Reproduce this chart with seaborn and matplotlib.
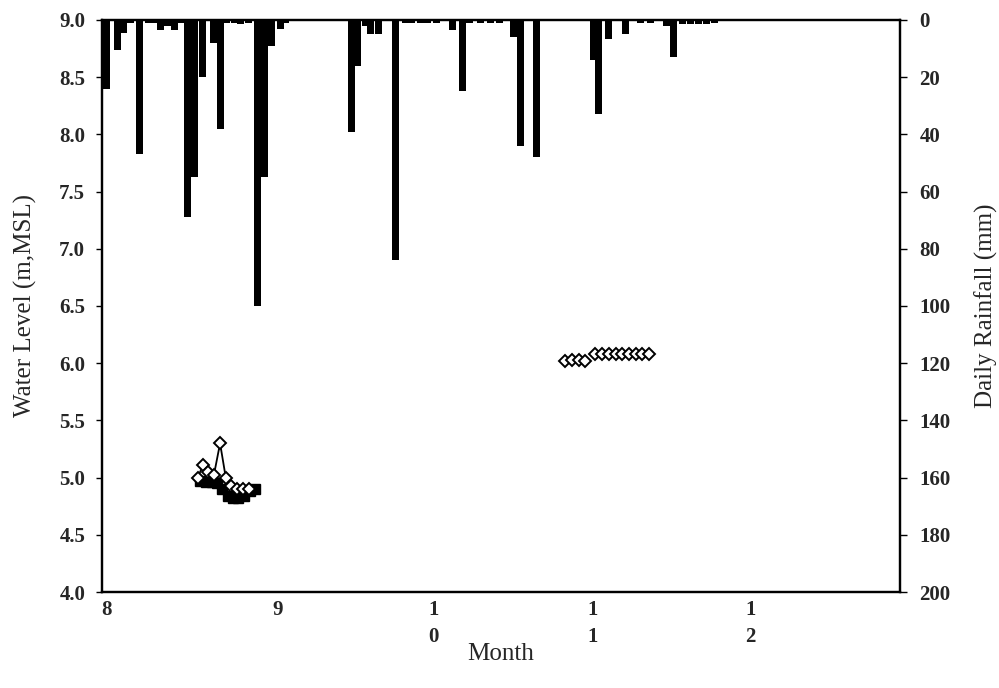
import numpy as np
import pandas as pd
import matplotlib
matplotlib.use("Agg")
import matplotlib.pyplot as plt
import seaborn as sns

# ---- data (x in days from start of August) ----
rain_day = [0.8, 3.1, 4.2, 5.6, 7.3, 8.9, 10.2, 11.4, 12.7, 14.1, 15.2,
            16.6, 17.8, 19.5, 21.6, 22.8, 24.1, 25.5, 26.8, 28.2,
            30.1, 31.3, 32.8, 34.4, 35.5,
            48.1, 49.4, 50.8, 51.9, 53.3, 56.6,
            58.5, 59.8, 61.4, 62.9, 64.5, 67.6, 69.5,
            71.0, 73.0, 74.9, 76.8, 79.5, 80.7, 83.8,
            94.8, 95.9, 97.7, 101.0, 103.9, 105.8, 108.9, 110.2,
            112.0, 113.5, 115.1, 116.6, 118.1]
rain_mm = [24, 10.5, 4.5, 1, 47, 1, 1, 3.5, 2, 3.5, 1,
           69, 55, 20, 8, 38, 1, 1, 1.5, 1,
           100, 55, 9, 3, 1,
           39, 16, 2, 5, 5, 84,
           1, 1, 1, 1, 1, 3.5, 25,
           1, 1, 1, 1, 6, 44, 48,
           14, 33, 6.5, 5, 1, 1, 2, 13,
           1.5, 1.5, 1.5, 1.5, 1]

# open-diamond water level series (NaN breaks the line between groups)
wl_a_day = [18.5, 19.5, 20.5, 21.6, 22.8, 23.9, 24.9, 26.1, 27.2, 28.3,
            np.nan,
            89.4, 90.7, 92.0, 93.3,
            np.nan,
            95.2, 96.5, 97.8, 99.1, 100.4, 101.7, 103.0, 104.3, 105.6]
wl_a = [5.00, 5.11, 5.05, 5.02, 5.30, 5.00, 4.93, 4.90, 4.90, 4.90,
        np.nan,
        6.02, 6.03, 6.03, 6.02,
        np.nan,
        6.08, 6.08, 6.08, 6.08, 6.08, 6.08, 6.08, 6.08, 6.08]

# filled-square water level series
wl_b_day = [18.9, 20.1, 21.2, 22.2, 23.2, 24.3, 25.3, 26.3, 27.4, 28.6, 29.5]
wl_b = [4.97, 4.96, 4.96, 4.95, 4.90, 4.84, 4.82, 4.82, 4.84, 4.88, 4.90]

month_pos = [0.8, 34.0, 63.9, 94.6, 125.1]
month_labels = ["8", "9", "1\n0", "1\n1", "1\n2"]
level_ticks = [4.0, 4.5, 5.0, 5.5, 6.0, 6.5, 7.0, 7.5, 8.0, 8.5, 9.0]
rain_ticks = [0, 20, 40, 60, 80, 100, 120, 140, 160, 180, 200]

sns.set_theme(style="white")
plt.rcParams["font.family"] = ["Liberation Serif", "DejaVu Serif"]

fig = plt.figure(figsize=(9.99, 6.88), dpi=100)
ax = fig.add_axes([0.102, 0.1395, 0.799, 0.8315])

df_a = pd.DataFrame({"day": wl_a_day, "level": wl_a})
df_b = pd.DataFrame({"day": wl_b_day, "level": wl_b})

ax.plot(df_b["day"], df_b["level"], color="black", lw=1.2,
        marker="s", ms=6.5, mfc="black", mec="black", zorder=3)
ax.plot(df_a["day"], df_a["level"], color="black", lw=1.3,
        marker="D", ms=6, mfc="white", mec="black", mew=1.4, zorder=4)
sns.despine(ax=ax, top=False, right=False)

tick_font = {"size": 15, "weight": "bold"}

ax.set_xlim(0, 154)
ax.set_ylim(4.0, 9.0)
ax.set_yticks(level_ticks)
ax.set_yticklabels([f"{v:.1f}" for v in level_ticks], fontdict=tick_font)
ax.set_xticks(month_pos)
ax.set_xticklabels(month_labels, linespacing=1.45, fontdict=tick_font)
ax.set_xlabel("Month", fontsize=18, labelpad=-3)
ax.set_ylabel("Water Level (m,MSL)", fontsize=18, labelpad=16)
ax.tick_params(axis="y", length=4, width=1, direction="out",
               left=True, color="black", pad=8)
ax.tick_params(axis="x", length=0, pad=6)
for lab in ax.get_xticklabels():
    lab.set_verticalalignment("top")

# rainfall hangs from the top on an inverted secondary axis
ax2 = ax.twinx()
ax2.bar(rain_day, rain_mm, width=1.35, color="black", align="center",
        linewidth=0, zorder=2)
ax2.set_ylim(200, 0)
ax2.set_yticks(rain_ticks)
ax2.set_yticklabels([str(v) for v in rain_ticks], fontdict=tick_font)
ax2.set_ylabel("Daily Rainfall (mm)", fontsize=18, labelpad=17)
ax2.tick_params(axis="y", length=5, width=1, direction="out",
                right=True, color="black", pad=9)
ax2.grid(False)
ax.grid(False)

for a in (ax, ax2):
    for side, sp in a.spines.items():
        sp.set_color("black")
        sp.set_linewidth(1.6)
        sp.set_visible(True)

fig.savefig("out.png", dpi=100, facecolor="white")
